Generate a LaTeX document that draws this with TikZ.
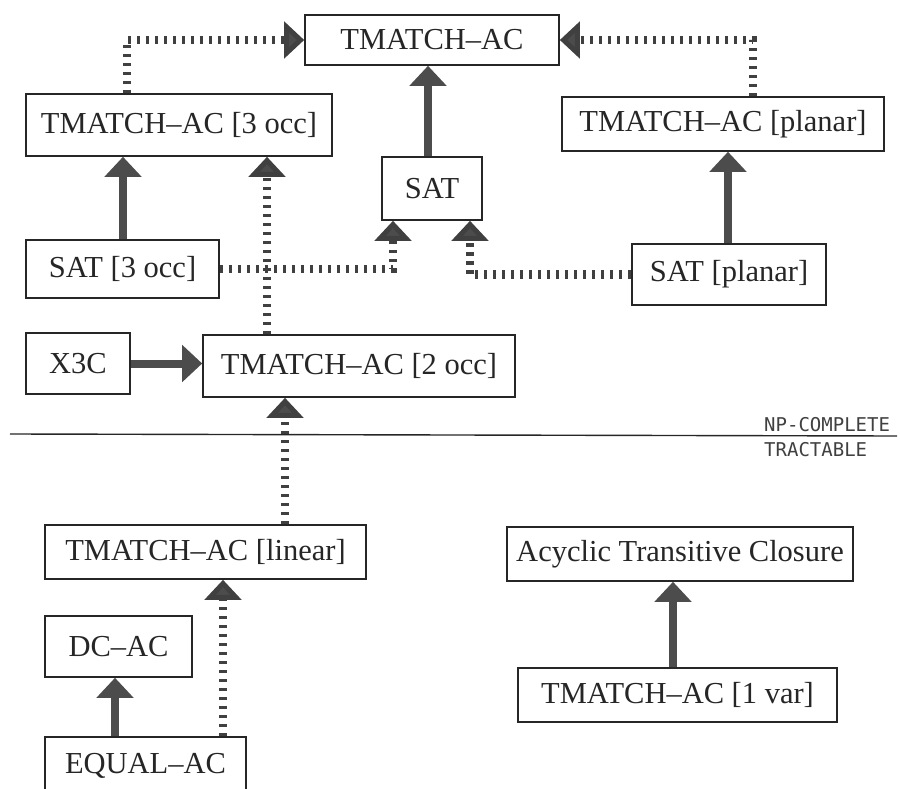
\documentclass[tikz,border=0pt]{standalone}
\usepackage{fontspec}
\setmainfont{Liberation Serif}
\newfontfamily\plotfont{DejaVu Sans Mono}
\usetikzlibrary{arrows.meta}
\begin{document}
\begin{tikzpicture}[x=1pt,y=-1pt,
  box/.style={draw=black!85, line width=1.6pt, fill=white, inner sep=0pt,
    font=\fontsize{30.5}{36}\selectfont, text=black!85},
  solidarrow/.style={draw=black!70, line width=8pt,
    -{Triangle[length=20pt,width=36pt,fill=black!70]}},
  dotarrow/.style={draw=black!75, line width=8.5pt, dash pattern=on 3.5pt off 5.5pt,
    -{Triangle[length=20pt,width=36pt,fill=black!70]}},
  plot/.style={font=\plotfont\fontsize{19}{22}\selectfont, text=black!75, inner sep=0pt, anchor=base west}
]
\useasboundingbox (0,0) rectangle (900,789);
\clip (0,0) rectangle (900,789);

% boxes
\node[box, minimum width=254pt, minimum height=50pt] (top) at (432,40) {TMATCH–AC\hspace{14pt}};
\node[box, minimum width=306pt, minimum height=62pt] (n3) at (179,125) {TMATCH–AC [3 occ]};
\node[box, minimum width=100pt, minimum height=63pt] (sat) at (432,188.5) {SAT};
\node[box, minimum width=322pt, minimum height=54pt] (planar) at (723,124) {TMATCH–AC [planar]\hspace{6pt}};
\node[box, minimum width=193pt, minimum height=58pt] (sat3) at (122.5,269) {SAT [3 occ]};
\node[box, minimum width=194pt, minimum height=61pt] (satp) at (729,274.5) {SAT [planar]};
\node[box, minimum width=104pt, minimum height=61pt] (x3c) at (78,363.5) {X3C};
\node[box, minimum width=312pt, minimum height=62pt] (n2) at (359,366) {TMATCH–AC [2 occ]};
\node[box, minimum width=321pt, minimum height=54pt] (lin) at (205.5,552) {TMATCH–AC [linear]};
\node[box, minimum width=346pt, minimum height=54pt] (acyc) at (680,554) {Acyclic Transitive Closure};
\node[box, minimum width=147pt, minimum height=61pt] (dc) at (118.5,646.5) {DC–AC};
\node[box, minimum width=201pt, minimum height=58pt] (eq) at (145.5,766) {EQUAL–AC};
\node[box, minimum width=319pt, minimum height=54pt] (onevar) at (677.5,695) {TMATCH–AC [1 var]};

% helper x positions
\coordinate (x127) at (127,0);
\coordinate (x753) at (753,0);
\coordinate (x428) at (428,0);
\coordinate (x123) at (123,0);
\coordinate (x267) at (267,0);
\coordinate (x393) at (393,0);
\coordinate (x470) at (470,0);
\coordinate (x728) at (728,0);
\coordinate (x285) at (285,0);
\coordinate (x223) at (223,0);
\coordinate (x115) at (115,0);
\coordinate (x673) at (673,0);

% connectors
\draw[dotarrow] (n3.north -| x127) |- (top.west);
\draw[dotarrow] (planar.north -| x753) |- (top.east);
\draw[solidarrow] (sat.north -| x428) -- (top.south -| x428);
\draw[solidarrow] (sat3.north -| x123) -- (n3.south -| x123);
\draw[dotarrow] (n2.north -| x267) -- (n3.south -| x267);
\draw[dotarrow] (sat3.east) -| (sat.south -| x393);
\draw[dotarrow] (satp.west) -| (sat.south -| x470);
\draw[solidarrow] (satp.north -| x728) -- (planar.south -| x728);
\draw[solidarrow] (x3c.east) -- (x3c.east -| n2.west);
\draw[dotarrow] (lin.north -| x285) -- (n2.south -| x285);
\draw[dotarrow] (eq.north -| x223) -- (lin.south -| x223);
\draw[solidarrow] (eq.north -| x115) -- (dc.south -| x115);
\draw[solidarrow] (onevar.north -| x673) -- (acyc.south -| x673);

% divider
\coordinate (L1) at (10,434);
\coordinate (L2) at (897,436);
\draw[line width=1.4pt, black!85] (L1) -- (L2);
\node[plot] (np) at (764,431) {NP-COMPLETE};
\node[plot] (tr) at (764,456) {TRACTABLE};
\end{tikzpicture}
\end{document}
